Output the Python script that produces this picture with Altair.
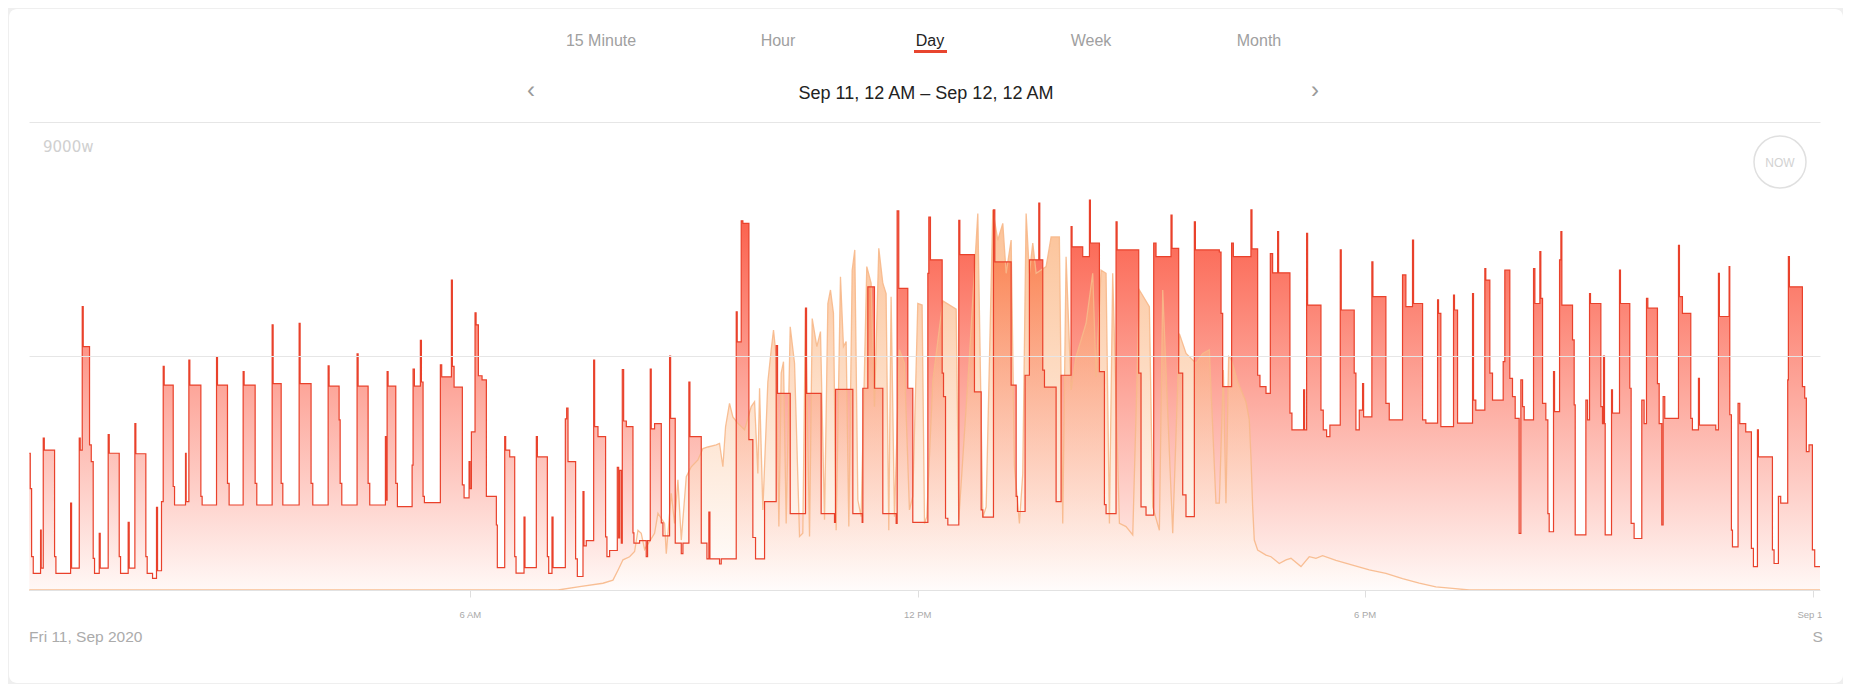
import altair as alt
import pandas as pd

# ---------------- data (hours since midnight, watts) ----------------
cons_h = [0.084, 0.097, 0.115, 0.137, 0.235, 0.244, 0.271, 0.285, 0.423, 0.441,
          0.638, 0.651, 0.754, 0.767, 0.794, 0.807, 0.892, 0.915, 0.941, 0.959,
          1.022, 1.035, 1.142, 1.156, 1.290, 1.308, 1.410, 1.424, 1.500, 1.513,
          1.647, 1.665, 1.737, 1.790, 1.804, 1.857, 1.880, 1.893, 2.014, 2.032,
          2.179, 2.188, 2.224, 2.237, 2.385, 2.402, 2.595, 2.608, 2.742, 2.764,
          2.952, 2.965, 3.113, 3.135, 3.341, 3.354, 3.462, 3.484, 3.703, 3.716,
          3.863, 3.886, 4.092, 4.105, 4.239, 4.253, 4.275, 4.480, 4.494, 4.628,
          4.650, 4.860, 4.869, 4.883, 4.896, 4.999, 5.021, 5.218, 5.231, 5.249,
          5.329, 5.343, 5.365, 5.383, 5.597, 5.615, 5.745, 5.758, 5.781, 5.892,
          5.915, 5.982, 5.995, 6.013, 6.062, 6.076, 6.107, 6.156, 6.214, 6.348,
          6.361, 6.460, 6.473, 6.527, 6.594, 6.612, 6.719, 6.732, 6.884, 6.898,
          7.032, 7.050, 7.094, 7.108, 7.273, 7.291, 7.309, 7.411, 7.434, 7.510,
          7.523, 7.554, 7.653, 7.666, 7.711, 7.813, 7.831, 7.867, 7.970, 7.988,
          8.001, 8.024, 8.037, 8.055, 8.091, 8.180, 8.193, 8.269, 8.358, 8.376,
          8.412, 8.425, 8.470, 8.560, 8.582, 8.671, 8.685, 8.747, 8.828, 8.850,
          8.930, 8.944, 9.096, 9.172, 9.198, 9.212, 9.341, 9.364, 9.565, 9.578,
          9.632, 9.654, 9.735, 9.788, 9.824, 9.945, 10.101, 10.119, 10.289, 10.494,
          10.508, 10.704, 10.883, 10.896, 11.129, 11.254, 11.263, 11.330, 11.419, 11.531,
          11.710, 11.723, 11.745, 11.866, 11.933, 12.135, 12.148, 12.170, 12.327, 12.345,
          12.372, 12.403, 12.550, 12.564, 12.760, 12.850, 12.872, 13.015, 13.033, 13.252,
          13.319, 13.337, 13.439, 13.497, 13.623, 13.636, 13.676, 13.699, 13.855, 13.922,
          14.056, 14.069, 14.212, 14.302, 14.315, 14.436, 14.503, 14.525, 14.659, 14.673,
          14.963, 14.994, 15.061, 15.164, 15.195, 15.396, 15.410, 15.499, 15.553, 15.597,
          15.709, 15.723, 16.044, 16.067, 16.089, 16.209, 16.232, 16.468, 16.482, 16.558,
          16.589, 16.670, 16.728, 16.759, 16.826, 16.839, 16.991, 17.018, 17.174, 17.188,
          17.215, 17.228, 17.407, 17.438, 17.483, 17.527, 17.666, 17.679, 17.853, 17.876,
          17.921, 17.965, 17.979, 18.090, 18.104, 18.278, 18.323, 18.501, 18.546, 18.635,
          18.649, 18.770, 18.814, 18.971, 18.984, 19.015, 19.185, 19.198, 19.239, 19.440,
          19.453, 19.484, 19.605, 19.618, 19.672, 19.708, 19.851, 19.873, 19.940, 19.976,
          20.012, 20.065, 20.088, 20.111, 20.133, 20.258, 20.276, 20.343, 20.356, 20.379,
          20.423, 20.450, 20.468, 20.526, 20.540, 20.607, 20.625, 20.638, 20.781, 20.803,
          20.817, 20.960, 20.982, 21.009, 21.022, 21.161, 21.183, 21.196, 21.210, 21.219,
          21.304, 21.317, 21.411, 21.424, 21.549, 21.567, 21.607, 21.710, 21.741, 21.773,
          21.791, 21.920, 21.943, 21.978, 21.996, 22.018, 22.202, 22.215, 22.255, 22.367,
          22.389, 22.470, 22.483, 22.702, 22.738, 22.751, 22.881, 22.890, 22.912, 22.926,
          23.001, 23.024, 23.104, 23.180, 23.207, 23.261, 23.274, 23.462, 23.484, 23.542,
          23.573, 23.667, 23.676, 23.690, 23.864, 23.895, 23.917, 23.953, 23.998, 24.029,
          24.100]
cons_w = [2630, 1950, 640, 320, 1150, 420, 2920, 2690, 640, 320,
          1670, 420, 2920, 2690, 5450, 4680, 2790, 2470, 610, 320,
          1090, 420, 2990, 2630, 640, 320, 1300, 420, 3200, 2620,
          640, 320, 224, 1590, 370, 1700, 4300, 3940, 1990, 1635,
          2630, 1700, 4420, 3940, 1800, 1635, 4490, 3940, 2050, 1635,
          4200, 3940, 2050, 1635, 5100, 3970, 2050, 1635, 5130, 3970,
          2050, 1635, 4310, 3920, 3270, 2050, 1635, 4540, 3920, 2050,
          1635, 2950, 1730, 4200, 3920, 2050, 1603, 2400, 4250, 3920,
          4800, 4000, 1800, 1680, 4330, 4100, 5960, 4300, 3900, 2020,
          1770, 2470, 1950, 3040, 5330, 5100, 4120, 4040, 1800, 1250,
          430, 2950, 2690, 2560, 640, 325, 1400, 430, 2950, 2560,
          640, 320, 1400, 430, 3290, 3500, 2470, 600, 260, 1890,
          850, 950, 4420, 3140, 2950, 1020, 640, 760, 2360, 1000,
          2300, 900, 4240, 3250, 3140, 1100, 900, 950, 640, 950,
          4250, 3100, 3200, 1290, 1040, 4500, 3300, 900, 700, 900,
          4000, 2950, 900, 600, 1500, 600, 500, 600, 5350, 4770,
          7100, 7050, 2890, 1010, 600, 1700, 4700, 3780, 1470, 5420,
          3780, 1470, 1300, 3860, 1470, 1300, 3880, 5830, 3880, 1470,
          1280, 7290, 5800, 3880, 1300, 6090, 7170, 6350, 4170, 3720,
          1380, 1250, 7110, 6450, 3810, 1540, 1400, 7310, 6310, 3940,
          1800, 1510, 4130, 6350, 7440, 6350, 4230, 3900, 1700, 4130,
          6990, 6600, 6410, 7500, 6670, 4200, 1640, 1470, 7080, 6540,
          4170, 1600, 1440, 6670, 6410, 7210, 6570, 4170, 1830, 1410,
          7080, 6540, 6500, 5320, 3910, 6670, 6410, 7310, 6560, 4130,
          3910, 3780, 6470, 6100, 6890, 6100, 3400, 3080, 3850, 3080,
          6860, 5480, 3460, 3080, 2950, 3170, 6540, 5385, 4170, 3080,
          3460, 3970, 3330, 6310, 5640, 3590, 3270, 6060, 5450, 6730,
          5510, 3270, 3210, 5580, 5320, 3140, 5670, 5385, 3210, 5700,
          3650, 3460, 6180, 5960, 4170, 3650, 4390, 6150, 4070, 3720,
          3300, 1090, 4040, 3526, 3270, 6180, 5510, 6510, 5610, 3590,
          3270, 1470, 1120, 4200, 3430, 6350, 6890, 5480, 4810, 3560,
          1060, 3650, 3270, 5700, 5510, 3526, 3200, 4500, 3200, 1060,
          3850, 3400, 6150, 5510, 3880, 1280, 990, 3650, 3200, 5610,
          5420, 3970, 3200, 1250, 3720, 3300, 6630, 5640, 5320, 3300,
          3080, 4070, 3170, 3080, 6090, 5260, 6220, 3370, 1150, 830,
          3590, 3200, 3040, 800, 450, 3080, 2560, 770, 510, 1800,
          1670, 4040, 6410, 5830, 3910, 3690, 2660, 2790, 770, 450,
          450]

solar_h = [0.084, 7.175, 7.465, 7.778, 7.912, 7.979, 8.046, 8.135, 8.202, 8.247,
           8.291, 8.336, 8.470, 8.515, 8.604, 8.627, 8.694, 8.738, 8.783, 8.828,
           8.895, 8.962, 9.051, 9.118, 9.185, 9.297, 9.341, 9.386, 9.422, 9.475,
           9.520, 9.587, 9.677, 9.766, 9.811, 9.855, 9.878, 9.922, 9.989, 10.034,
           10.065, 10.101, 10.137, 10.168, 10.199, 10.235, 10.289, 10.347, 10.414, 10.458,
           10.494, 10.548, 10.584, 10.646, 10.695, 10.749, 10.794, 10.829, 10.869, 10.905,
           10.963, 11.003, 11.039, 11.075, 11.120, 11.155, 11.196, 11.240, 11.316, 11.374,
           11.419, 11.477, 11.531, 11.575, 11.611, 11.642, 11.687, 11.754, 11.821, 11.888,
           11.933, 12.000, 12.058, 12.090, 12.121, 12.200, 12.336, 12.515, 12.550, 12.693,
           12.805, 12.872, 12.917, 13.006, 13.073, 13.140, 13.185, 13.252, 13.296, 13.363,
           13.408, 13.453, 13.497, 13.542, 13.587, 13.721, 13.788, 13.899, 13.944, 13.989,
           14.056, 14.123, 14.257, 14.346, 14.391, 14.458, 14.525, 14.570, 14.614, 14.704,
           14.793, 14.883, 14.972, 15.106, 15.151, 15.240, 15.285, 15.419, 15.508, 15.598,
           15.731, 15.821, 15.910, 15.999, 16.044, 16.098, 16.133, 16.169, 16.200, 16.245,
           16.290, 16.334, 16.401, 16.446, 16.468, 16.491, 16.513, 16.558, 16.670, 16.737,
           16.848, 16.938, 17.005, 17.139, 17.250, 17.340, 17.429, 17.608, 17.831, 18.055,
           18.278, 18.501, 18.725, 18.948, 19.172, 19.395, 24.100]
solar_w = [0, 0, 64, 130, 190, 380, 580, 640, 740, 1150,
           1090, 780, 1090, 1475, 1280, 700, 1860, 1280, 2120, 960,
           2180, 2370, 2500, 2720, 2750, 2790, 2820, 2370, 3140, 3590,
           3330, 3205, 3080, 3526, 3620, 2240, 3880, 1540, 4000, 4620,
           5000, 4490, 1220, 4170, 4390, 1280, 5060, 4360, 1030, 1090,
           5420, 1030, 5220, 4680, 4970, 1350, 5510, 5770, 5320, 1150,
           6025, 4680, 4780, 1220, 6150, 6540, 1730, 1410, 6220, 5900,
           3526, 6570, 5900, 5700, 1150, 5640, 1410, 4620, 4360, 1540,
           1800, 5510, 5480, 1280, 1410, 4000, 5560, 5400, 1350, 4500,
           7240, 1400, 1600, 7310, 6730, 7050, 6090, 6730, 2380, 1280,
           2240, 7240, 6090, 6670, 6090, 6220, 6790, 6790, 1280, 6410,
           3850, 4490, 5130, 6090, 4100, 6150, 6090, 1280, 6090, 1280,
           1220, 1060, 5770, 5450, 1600, 1150, 5770, 1090, 4930, 4550,
           4360, 4550, 4620, 1670, 1670, 4230, 1670, 4490, 4450, 4230,
           4000, 3850, 3620, 3270, 2560, 1600, 960, 770, 670, 640,
           510, 580, 610, 450, 640, 610, 660, 570, 480, 385,
           320, 220, 130, 60, 30, 0, 0]

tab_labels = ["15 Minute", "Hour", "Day", "Week", "Month"]
range_title = "Sep 11, 12 AM \u2013 Sep 12, 12 AM"
tick_hours = [6, 12, 18, 24]
tick_labels = ["6 AM", "12 PM", "6 PM", "Sep 12"]
day_hours = [0.08, 24.0]
day_labels = ["Fri 11, Sep 2020", "S"]
grid_watts = [4500, 9000]
top_label = "9000w"

# ---------------- layout ----------------
FONT = "Liberation Sans"
W, H = 1791, 468
xs = alt.Scale(domain=[0.08, 24.1], nice=False, zero=False)
ys = alt.Scale(domain=[0, 9000], nice=False, zero=True)

x_axis = alt.Axis(values=tick_hours, labels=False, ticks=True, tickSize=7,
                  tickColor="#dedede", domainColor="#e2e2e2", grid=False,
                  title=None, zindex=1)
y_axis = alt.Axis(values=grid_watts, labels=False, ticks=False, domain=False,
                  grid=True, gridColor="#e6e6e6", gridWidth=1, title=None, zindex=1)

cons = pd.DataFrame({"h": cons_h, "w": cons_w})
solar = pd.DataFrame({"h": solar_h, "w": solar_w})
one = pd.DataFrame({"k": [0]})

X = alt.X("h:Q", scale=xs, axis=x_axis)
Y = alt.Y("w:Q", scale=ys, axis=y_axis)

red_grad = alt.Gradient(gradient="linear",
                        stops=[alt.GradientStop(color="#fff8f6", offset=0),
                               alt.GradientStop(color="#fb5a45", offset=1)],
                        x1=1, x2=1, y1=1, y2=0)
orange_grad = alt.Gradient(gradient="linear",
                           stops=[alt.GradientStop(color="#ffffff", offset=0),
                                  alt.GradientStop(color="#f98e3f", offset=1)],
                           x1=1, x2=1, y1=1, y2=0)

card = alt.Chart(one).mark_rect(fill="white", cornerRadius=8).encode(
    x=alt.value(-20), x2=alt.value(1814), y=alt.value(-113), y2=alt.value(561))

cons_area = alt.Chart(cons).mark_area(interpolate="step-after", color=red_grad,
                                      line=False).encode(x=X, y=Y)
solar_area = alt.Chart(solar).mark_area(interpolate="linear", color=orange_grad,
                                        opacity=0.55, line=False).encode(x=X, y=Y)
solar_line = alt.Chart(solar).mark_line(interpolate="linear", color="#f7b88a",
                                        strokeWidth=1.3, opacity=0.9).encode(x=X, y=Y)
cons_line = alt.Chart(cons).mark_line(interpolate="step-after", color="#e9412b",
                                      strokeWidth=1.2).encode(x=X, y=Y)

layers = [card, cons_area, solar_area, solar_line, cons_line]

# tabs
tab_x = [572, 749, 901, 1062, 1230]
for lbl, tx in zip(tab_labels, tab_x):
    active = lbl == "Day"
    layers.append(alt.Chart(one).mark_text(
        text=lbl, font=FONT, fontSize=16, align="center", baseline="middle",
        color="#222222" if active else "#a0a0a0").encode(
        x=alt.value(tx), y=alt.value(-81)))
layers.append(alt.Chart(one).mark_rect(fill="#e8452f").encode(
    x=alt.value(885), x2=alt.value(918), y=alt.value(-72), y2=alt.value(-69)))

# date range + arrows
layers.append(alt.Chart(one).mark_text(
    text=range_title, font=FONT, fontSize=18, align="center", baseline="middle",
    color="#222222").encode(x=alt.value(897), y=alt.value(-28)))
for ch, ax in [("\u2039", 502), ("\u203a", 1286)]:
    layers.append(alt.Chart(one).mark_text(
        text=ch, font=FONT, fontSize=24, align="center", baseline="middle",
        color="#9a9a9a").encode(x=alt.value(ax), y=alt.value(-31)))

# 9000w label and NOW button
layers.append(alt.Chart(one).mark_text(
    text=top_label, font="DejaVu Sans", fontSize=15, align="left", baseline="middle",
    color="#d0d0d0").encode(x=alt.value(14), y=alt.value(25)))
layers.append(alt.Chart(one).mark_point(
    shape="circle", size=2704, filled=False, stroke="#e0e0e0", strokeWidth=1.5,
    opacity=1).encode(x=alt.value(1751), y=alt.value(40)))
layers.append(alt.Chart(one).mark_text(
    text="NOW", font=FONT, fontSize=12, align="center", baseline="middle",
    color="#d2d2d2").encode(x=alt.value(1751), y=alt.value(41)))

# x tick labels and day labels (through the x scale)
ticks_df = pd.DataFrame({"h": tick_hours, "t": tick_labels})
layers.append(alt.Chart(ticks_df).mark_text(
    font=FONT, fontSize=9.5, align="center", baseline="middle", color="#a9a9a9"
).encode(x=X, y=alt.value(493), text="t:N"))
days_df = pd.DataFrame({"h": day_hours, "t": day_labels})
layers.append(alt.Chart(days_df).mark_text(
    font=FONT, fontSize=15.5, align="left", baseline="middle", color="#ababab"
).encode(x=X, y=alt.value(515), text="t:N"))
# clip the last tick label at the plot's right edge
layers.append(alt.Chart(one).mark_rect(fill="white").encode(
    x=alt.value(1793), x2=alt.value(1815), y=alt.value(478), y2=alt.value(505)))

chart = alt.layer(*layers).properties(
    width=W, height=H,
    padding={"left": 21, "top": 114, "right": 23, "bottom": 94},
    autosize=alt.AutoSizeParams(type="none"),
).configure(background="#efefef").configure_view(stroke=None)

chart.save("out.html", embed_options={"renderer": "svg", "actions": False})
